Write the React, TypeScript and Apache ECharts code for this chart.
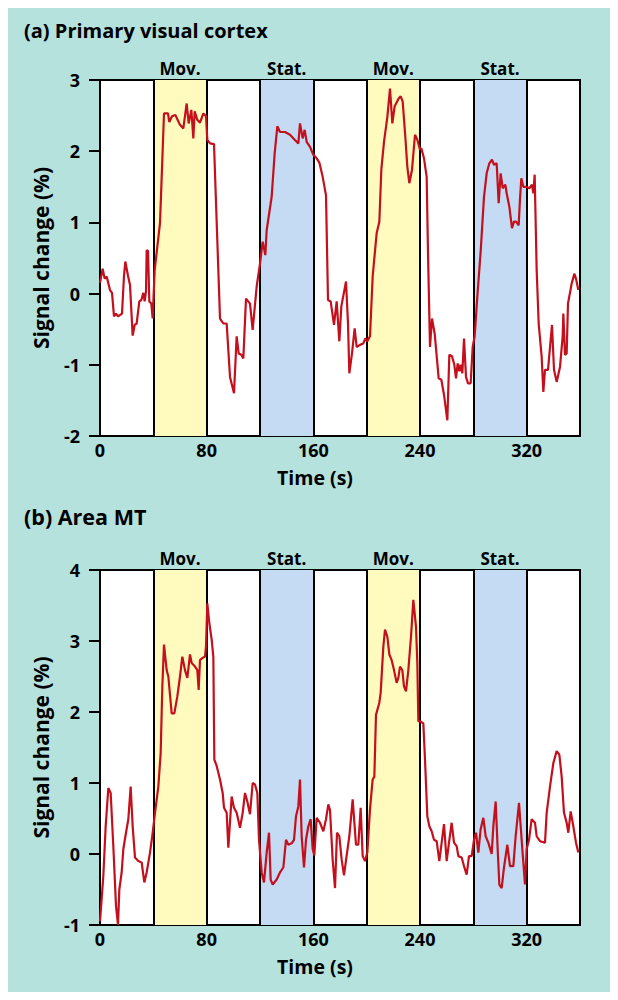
import React, { useEffect, useRef } from "react";
import * as echarts from "echarts";

// ---------- data ----------
const v1Time = [
  0, 2, 3.5, 5, 7.5, 9, 10.5, 12, 13.5, 16.5, 18, 19, 21, 22.5, 24.5, 26, 27.5, 29.5, 31, 32.5, 33.5, 34.5, 35, 36, 37, 38.5, 39.5,
  41, 45, 48, 51, 52, 54, 56.5, 58, 60, 62.5, 65, 66.5, 68.5, 70, 71, 73, 75, 77.5, 79.5,
  80.5, 82.5, 85.5, 90, 92.5, 95, 97.5, 100.5, 102.5, 104, 106, 107.5, 109.5, 112.5, 114.5, 117.5,
  120, 122, 124, 125, 128.75, 131, 133, 135, 138.75, 142.5, 146, 148.75, 150, 152, 153.5, 155, 157.5,
  160, 162.5, 164.5, 167, 169.5, 171, 173, 175.5, 177.5, 179.5, 181, 184.5, 186, 187, 189, 191, 192.5, 195, 197.5, 199,
  200.5, 202.5, 204.5, 207.5, 209.5, 211, 213, 215.5, 217.5, 219.25, 221, 224, 225.5, 227, 229, 230.5, 232, 234, 236.25, 238,
  240, 241, 243, 245, 246, 247.5, 249, 251, 254, 256, 258, 260.5, 262, 264, 265.75, 267, 268.25, 269.5, 270.5, 271.75, 273, 274.5, 276, 278, 279.5,
  281, 283, 285.5, 288, 290, 292, 294, 295.5, 297.5, 299, 300.5, 302, 304, 305, 307, 309, 310.5, 312, 314, 315, 316, 317.5, 319.5,
  322, 324, 325, 326, 327.5, 329, 331.25, 332.5, 333.75, 336, 339, 340.5, 342.5, 345, 347, 347.5, 348.75, 350, 351, 353.75, 355.75, 357, 358.75,
];
const v1Signal = [
  0.15, 0.35, 0.21, 0.24, 0.05, 0.01, -0.32, -0.28, -0.32, -0.28, 0.25, 0.45, 0.25, 0.12, -0.59, -0.44, -0.42, -0.11, -0.09, 0.01, -0.11, 0.03, 0.61, 0.6, -0.11, -0.14, -0.35,
  0.33, 0.99, 2.53, 2.53, 2.41, 2.49, 2.51, 2.45, 2.37, 2.32, 2.67, 2.39, 2.58, 2.18, 2.56, 2.44, 2.4, 2.53, 2.49,
  2.16, 2.11, 2.1, -0.35, -0.42, -0.42, -1.17, -1.4, -0.6, -0.84, -0.86, -0.91, -0.07, -0.14, -0.51, 0.1,
  0.42, 0.73, 0.54, 0.89, 1.36, 1.97, 2.35, 2.27, 2.27, 2.23, 2.16, 2.11, 2.39, 2.18, 2.3, 2.13, 2.06,
  1.95, 1.9, 1.84, 1.64, 1.38, -0.09, -0.11, -0.44, -0.11, -0.67, -0.18, 0.17, -0.42, -1.12, -0.84, -0.49, -0.75, -0.72, -0.7, -0.63,
  -0.67, -0.6, 0.24, 0.85, 1.01, 1.74, 2.13, 2.48, 2.88, 2.39, 2.63, 2.74, 2.77, 2.7, 2.2, 1.78, 1.55, 1.74, 2.23, 2.16,
  2.02, 2.04, 1.9, 1.64, 0.57, -0.75, -0.35, -0.56, -1.19, -1.21, -1.42, -1.78, -0.86, -0.88, -1.0, -1.19, -0.98, -1.09, -1.0, -1.12, -0.63, -1.17, -1.26, -1.26, -0.75,
  -0.6, -0.04, 0.59, 1.36, 1.69, 1.83, 1.88, 1.81, 1.83, 1.27, 1.69, 1.48, 1.53, 1.41, 1.22, 0.92, 1.01, 1.01, 0.96, 1.33, 1.62, 1.5, 1.5,
  1.48, 1.53, 1.41, 1.67, 0.33, -0.42, -0.89, -1.38, -1.07, -1.07, -0.44, -1.07, -1.24, -1.03, -0.6, -0.28, -0.86, -0.84, -0.14, 0.14, 0.28, 0.21, 0.05,
];

const mtTime = [
  0, 2.5, 4.25, 6.25, 8, 10, 12, 13.5, 14.5, 16.25, 17.5, 19.5, 21.25, 23, 24.5, 26.25, 28.75, 31.25, 33.25, 35, 37.5, 39.25,
  41.25, 43.75, 45.5, 46.75, 48, 50, 51.25, 53.75, 55.75, 58, 60, 61.75, 63.75, 65.5, 67.5, 68.75, 71.25, 73, 74, 75, 76.75, 78.75, 79.5,
  80.5, 82, 83.75, 85, 85.75, 87.5, 90, 92, 93, 95, 96.25, 98.75, 100.5, 102.5, 105, 107, 108.75, 110.5, 112.5, 114.5, 116.25, 118, 119.25,
  121.25, 123, 125, 126.75, 128, 129.5, 132.5, 135, 137.5, 139.5, 141.25, 143.75, 145.5, 147, 148.75, 150, 151.25, 153, 154.5, 156.25, 158, 159.5,
  160.75, 162.5, 165, 167.5, 169.5, 171.25, 172.5, 174.5, 176.25, 177.75, 179.5, 181.25, 183, 185, 187, 189.5, 192, 193.75, 195.5, 197, 198.75,
  200.5, 202.5, 204.5, 205.75, 207, 209.5, 210.5, 212.5, 213.75, 215.5, 217, 218.75, 220.5, 222.5, 223.75, 225, 226.75, 228, 229.5, 231.25, 233.25, 235, 237, 238, 238.75,
  240, 242.5, 243.75, 245.5, 247, 248.75, 250.5, 252.5, 254.5, 256.25, 258, 260, 261.75, 263.75, 265.5, 267.5, 268.75, 271.25, 273, 275, 276.75, 278.75,
  280.5, 282, 283.75, 285.5, 287.5, 289.25, 291.25, 293.75, 295, 296.75, 298.25, 299.5, 301.25, 303, 305.5, 307.5, 310, 311.75, 314.25, 316.25, 317.5, 318.75,
  320, 321.75, 323.75, 326.25, 327.5, 330, 333.75, 335, 337.5, 340, 342.5, 344.5, 346.25, 348, 350, 351.25, 353, 355, 357, 358.75,
];
const mtSignal = [
  -0.95, -0.31, 0.39, 0.93, 0.86, 0.11, -0.73, -1.0, -0.5, -0.26, 0.07, 0.3, 0.49, 0.95, 0.39, -0.05, -0.1, -0.12, -0.4, -0.26, 0.02, 0.26,
  0.58, 0.95, 1.42, 2.36, 2.95, 2.59, 2.5, 1.98, 1.98, 2.22, 2.5, 2.78, 2.59, 2.48, 2.81, 2.69, 2.64, 2.59, 2.31, 2.73, 2.76, 2.78, 2.92,
  3.53, 3.25, 3.02, 2.78, 1.33, 1.24, 1.05, 0.86, 0.65, 0.58, 0.09, 0.81, 0.65, 0.58, 0.37, 0.58, 0.86, 0.74, 0.56, 1.0, 0.98, 0.86, 0.2,
  -0.26, -0.4, 0.02, 0.3, -0.36, -0.43, -0.36, -0.26, -0.19, 0.2, 0.13, 0.15, 0.2, 0.53, 0.67, 1.05, 0.25, -0.19, 0.2, 0.39, 0.49, 0.07,
  -0.02, 0.51, 0.44, 0.32, 0.49, 0.7, 0.62, -0.08, -0.48, 0.3, 0.25, -0.08, -0.3, -0.02, 0.25, 0.77, 0.13, 0.13, 0.65, -0.03, -0.1,
  0.02, 0.63, 1.05, 1.09, 1.96, 2.13, 2.27, 2.92, 3.16, 3.06, 2.81, 2.73, 2.59, 2.41, 2.48, 2.64, 2.59, 2.36, 2.29, 2.59, 3.06, 3.58, 3.2, 2.69, 1.87,
  1.87, 1.84, 1.33, 0.53, 0.39, 0.32, 0.2, 0.18, -0.1, 0.16, 0.42, -0.1, 0.16, 0.44, 0.16, 0.11, -0.03, -0.05, -0.17, -0.29, -0.03, -0.03,
  0.2, 0.3, 0.02, 0.35, 0.51, 0.25, 0.16, 0.0, 0.39, 0.74, 0.07, -0.43, -0.48, -0.19, 0.13, -0.17, -0.17, 0.25, 0.72, 0.2, -0.12, -0.43,
  0.07, 0.2, 0.49, 0.44, 0.25, 0.18, 0.16, 0.58, 0.95, 1.28, 1.45, 1.4, 1.09, 0.58, 0.44, 0.3, 0.6, 0.39, 0.16, 0.02,
];

const blockStarts = [0, 40, 80, 120, 160, 200, 240, 280, 320];
const blockKinds = ["rest", "mov", "rest", "stat", "rest", "mov", "rest", "stat", "rest"];
const blockLabels: Record<string, string> = { mov: "Mov.", stat: "Stat.", rest: "" };
const blockLength = 40;
const xTickLabels = [0, 80, 160, 240, 320];
const v1YRange = [-2, 3];
const mtYRange = [-1, 4];
const panelTitles = ["(a) Primary visual cortex", "(b) Area MT"];
const xAxisTitle = "Time (s)";
const yAxisTitle = "Signal change (%)";

// ---------- styling ----------
const FONT = "Open Sans";
const TEAL = "#b5e2dd";
const YELLOW = "#fffbbf";
const BLUE = "#c5dbf4";
const RED = "#c4101c";

function pairs(t: number[], v: number[]) {
  return t.map((x, i) => [x, v[i]]);
}

function bandAreas() {
  return blockStarts
    .map((s, i) => ({ s, k: blockKinds[i] }))
    .filter((b) => b.k !== "rest")
    .map((b) => [
      {
        xAxis: b.s,
        name: blockLabels[b.k],
        itemStyle: { color: b.k === "mov" ? YELLOW : BLUE },
      },
      { xAxis: b.s + blockLength },
    ]);
}

function dividers() {
  return blockStarts.filter((s) => s > 0).map((s) => ({ xAxis: s }));
}

export default function App() {
  const ref = useRef<HTMLDivElement>(null);
  useEffect(() => {
    if (!ref.current) return;
    const chart = echarts.init(ref.current, null, { renderer: "svg" });
    const grids = [
      { left: 92, top: 72, width: 480, height: 356 },
      { left: 92, top: 562, width: 480, height: 355 },
    ];
    const ranges = [v1YRange, mtYRange];
    const datasets = [pairs(v1Time, v1Signal), pairs(mtTime, mtSignal)];

    const option: any = {
      animation: false,
      backgroundColor: TEAL,
      textStyle: { fontFamily: FONT },
      grid: grids.map((g) => ({
        ...g,
        show: true,
        backgroundColor: "#ffffff",
        borderColor: "#000",
        borderWidth: 2,
      })),
      xAxis: grids.map((_, i) => ({
        type: "value",
        gridIndex: i,
        min: 0,
        max: 360,
        interval: 40,
        axisLine: { show: false },
        axisTick: { show: false },
        splitLine: { show: false },
        axisLabel: {
          margin: 5,
          color: "#000",
          fontFamily: FONT,
          fontWeight: "bold",
          fontSize: 18,
          formatter: (v: number) => (xTickLabels.includes(v) ? String(v) : ""),
        },
      })),
      yAxis: grids.map((_, i) => ({
        type: "value",
        gridIndex: i,
        min: ranges[i][0],
        max: ranges[i][1],
        interval: 1,
        axisLine: { show: true, lineStyle: { color: "#000", width: 2 } },
        axisTick: { show: true, length: 11, lineStyle: { color: "#000", width: 2 } },
        splitLine: { show: false },
        axisLabel: {
          margin: 20,
          color: "#000",
          fontFamily: FONT,
          fontWeight: "bold",
          fontSize: 18,
        },
        name: yAxisTitle,
        nameLocation: "middle",
        nameGap: 49,
        nameTextStyle: {
          color: "#000",
          fontFamily: FONT,
          fontWeight: "bold",
          fontSize: 21,
        },
      })),
      series: datasets.map((d, i) => ({
        type: "line",
        xAxisIndex: i,
        yAxisIndex: i,
        data: d,
        showSymbol: false,
        symbol: "none",
        clip: true,
        lineStyle: { color: RED, width: 2.2 },
        z: 5,
        markArea: {
          silent: true,
          label: {
            show: true,
            position: "top",
            distance: 3,
            color: "#000",
            fontFamily: FONT,
            fontWeight: "bold",
            fontSize: 17,
          },
          data: bandAreas(),
        },
        markLine: {
          silent: true,
          symbol: ["none", "none"],
          label: { show: false },
          lineStyle: { color: "#000", width: 2, type: "solid" },
          data: dividers(),
        },
      })),
      graphic: [
        {
          type: "text",
          left: 16,
          top: 12,
          style: { text: panelTitles[0], fill: "#000", font: `bold 20px "${FONT}"` },
        },
        {
          type: "text",
          left: 16,
          top: 497,
          style: { text: panelTitles[1], fill: "#000", font: `bold 21.5px "${FONT}"` },
        },
        {
          type: "text",
          x: 307,
          y: 469,
          style: {
            text: xAxisTitle,
            fill: "#000",
            font: `bold 19.5px "${FONT}"`,
            align: "center",
            verticalAlign: "middle",
          },
        },
        {
          type: "text",
          x: 307,
          y: 958,
          style: {
            text: xAxisTitle,
            fill: "#000",
            font: `bold 19.5px "${FONT}"`,
            align: "center",
            verticalAlign: "middle",
          },
        },
      ],
    };
    chart.setOption(option);
    return () => chart.dispose();
  }, []);
  return <div ref={ref} style={{ width: 602, height: 984 }} />;
}
